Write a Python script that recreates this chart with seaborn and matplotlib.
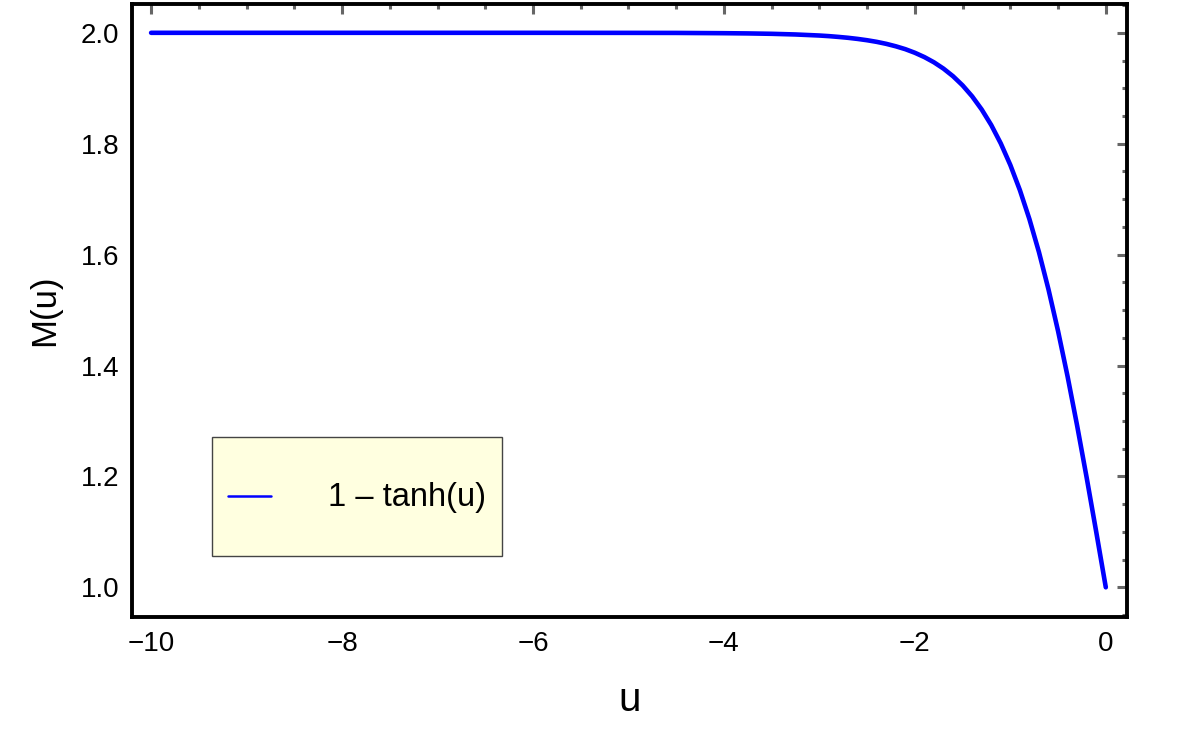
import matplotlib
matplotlib.use("Agg")
import matplotlib.pyplot as plt
from matplotlib.lines import Line2D
from matplotlib.ticker import MultipleLocator
import seaborn as sns
import pandas as pd
import numpy as np

# values
u_values = [-10, -9, -8, -7, -6, -5, -4.5, -4, -3.75, -3.5, -3.25, -3.0, -2.9, -2.8,
            -2.7, -2.6, -2.5, -2.4, -2.3, -2.2, -2.1, -2.0, -1.9, -1.8, -1.7, -1.6,
            -1.5, -1.4, -1.3, -1.2, -1.1, -1.0, -0.9, -0.8, -0.7, -0.6, -0.5, -0.4,
            -0.3, -0.2, -0.1, 0.0]
m_values = [2.0, 2.0, 2.0, 2.0, 2.0, 1.9999, 1.9998, 1.9993, 1.9989, 1.9982, 1.9970,
            1.9951, 1.9940, 1.9926, 1.9910, 1.9890, 1.9866, 1.9837, 1.9801, 1.9757,
            1.9705, 1.9640, 1.9562, 1.9468, 1.9354, 1.9217, 1.9052, 1.8854, 1.8617,
            1.8337, 1.8005, 1.7616, 1.7163, 1.6640, 1.6044, 1.5370, 1.4621, 1.3800,
            1.2913, 1.1974, 1.0997, 1.0]
series_label = "1 \u2013 tanh(u)"
x_ticks = [-10, -8, -6, -4, -2, 0]
y_ticks = [1.0, 1.2, 1.4, 1.6, 1.8, 2.0]

df = pd.DataFrame({"u": u_values, "M": m_values})

sns.set_style("white")
plt.rcParams["font.family"] = ["Liberation Sans", "DejaVu Sans"]
plt.rcParams["text.color"] = "black"
plt.rcParams["axes.labelcolor"] = "black"

fig = plt.figure(figsize=(12, 7.5), dpi=100)
ax = fig.add_axes([0.11, 0.177, 0.829, 0.8177])

sns.lineplot(data=df, x="u", y="M", ax=ax, color="#0000FF", linewidth=3.3,
             sort=False, legend=False)

ax.set_xlim(-10.2, 0.22)
ax.set_ylim(0.946, 2.052)
ax.set_xticks(x_ticks)
ax.set_xticklabels([("\u2212" + str(abs(t))) if t < 0 else str(t) for t in x_ticks])
ax.set_yticks(y_ticks)
ax.set_yticklabels([f"{t:.1f}" for t in y_ticks])
ax.xaxis.set_minor_locator(MultipleLocator(0.5))
ax.yaxis.set_minor_locator(MultipleLocator(0.05))

ax.tick_params(which="both", direction="in", top=True, right=True,
               color="#666666", labelsize=20, labelcolor="black")
ax.tick_params(axis="y", which="major", pad=9)
ax.tick_params(axis="x", which="major", pad=10)
ax.tick_params(which="major", length=7, width=2.2)
ax.tick_params(which="minor", length=3.5, width=2.2)

for s in ax.spines.values():
    s.set_color("black")
    s.set_linewidth(2.8)
    s.set_visible(True)

ax.set_xlabel("u", fontsize=29, labelpad=17, color="black")
ax.set_ylabel("M(u)", fontsize=25, labelpad=14, color="black")

handle = Line2D([0], [0], color="#0000FF", linewidth=1.8)
leg = ax.legend([handle], [series_label], loc="lower left",
                bbox_to_anchor=(0.0804, 0.0995), borderaxespad=0,
                fontsize=23.5, frameon=True, fancybox=False,
                handlelength=1.3, handletextpad=1.75, borderpad=0.5,
                handleheight=3.7, framealpha=1)
for t in leg.get_texts():
    t.set_color("black")
# lower the sample line so it sits level with the label text
lh = leg.legend_handles[0]
lh.set_ydata(np.asarray(lh.get_ydata(), dtype=float) - 12)
leg.get_frame().set_facecolor("#FFFFE0")
leg.get_frame().set_edgecolor("#444444")
leg.get_frame().set_linewidth(1.0)

fig.savefig("out.png", dpi=100)
